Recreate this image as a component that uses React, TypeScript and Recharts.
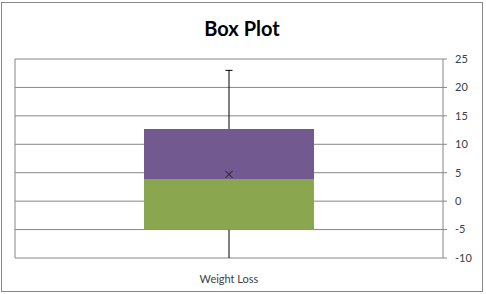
import React from "react";
import {
  ComposedChart,
  Bar,
  XAxis,
  YAxis,
  CartesianGrid,
  ReferenceDot,
} from "recharts";

const categories = ["Weight Loss"];
const minValues = [-10];
const q1Values = [-5];
const medianValues = [3.9];
const q3Values = [12.7];
const maxValues = [23];
const meanValues = [4.7];
const yTicks = [-10, -5, 0, 5, 10, 15, 20, 25];

const data = categories.map((name, i) => ({
  name,
  base: minValues[i],
  lowWhisker: q1Values[i] - minValues[i],
  lower: medianValues[i] - q1Values[i],
  upper: q3Values[i] - medianValues[i],
  highWhisker: maxValues[i] - q3Values[i],
}));

const AXIS = "#868686";
const TEXT = "#404040";
const FONT = "Lato, sans-serif";

const LowWhiskerShape = (props: any) => {
  const { x, y, width, height } = props;
  const cx = x + width / 2;
  const y1 = Math.min(y, y + height);
  const y2 = Math.max(y, y + height);
  return <line x1={cx} x2={cx} y1={y1} y2={y2} stroke="#000" strokeWidth={1} />;
};

const HighWhiskerShape = (props: any) => {
  const { x, y, width, height } = props;
  const cx = x + width / 2;
  const y1 = Math.min(y, y + height);
  const y2 = Math.max(y, y + height);
  return (
    <g>
      <line x1={cx} x2={cx} y1={y1} y2={y2} stroke="#000" strokeWidth={1} />
      <line x1={cx - 3.5} x2={cx + 3.5} y1={y1} y2={y1} stroke="#000" strokeWidth={1} />
    </g>
  );
};

const MeanShape = (props: any) => {
  const { cx, cy } = props;
  const r = 3.5;
  return (
    <g>
      <line x1={cx - r} y1={cy - r} x2={cx + r} y2={cy + r} stroke="#1a1a1a" strokeWidth={1} />
      <line x1={cx - r} y1={cy + r} x2={cx + r} y2={cy - r} stroke="#1a1a1a" strokeWidth={1} />
    </g>
  );
};

export default function App() {
  return (
    <div style={{ position: "absolute", left: 0, top: 0, width: 486, height: 294, background: "#fff", fontFamily: FONT }}>
      <div
        style={{
          position: "absolute",
          left: 1,
          top: 2,
          width: 480,
          height: 288,
          border: "1px solid #888",
        }}
      />
      <div
        style={{
          position: "absolute",
          left: 0,
          top: 14,
          width: 484,
          textAlign: "center",
          fontSize: 20,
          fontWeight: 700,
          color: "#000",
          fontFamily: FONT,
          lineHeight: "28px",
        }}
      >
        Box Plot
      </div>
      <div style={{ position: "absolute", left: 0, top: 0 }}>
        <ComposedChart
          width={486}
          height={294}
          data={data}
          margin={{ top: 59, right: 3, left: 10, bottom: 16 }}
        >
          <CartesianGrid vertical={false} stroke={AXIS} />
          <XAxis
            dataKey="name"
            axisLine={false}
            tickLine={false}
            height={20}
            tickMargin={11}
            tick={{ fill: TEXT, fontSize: 11, fontFamily: FONT }}
          />
          <YAxis
            yAxisId="left"
            orientation="left"
            width={5}
            domain={[-10, 25]}
            ticks={yTicks}
            tick={false}
            tickSize={4}
            stroke={AXIS}
          />
          <YAxis
            orientation="right"
            width={40}
            domain={[-10, 25]}
            ticks={yTicks}
            stroke={AXIS}
            tickSize={4}
            tickMargin={8}
            tick={{ fill: TEXT, fontSize: 11, fontFamily: FONT }}
          />
          <Bar stackId="box" dataKey="base" barSize={170} fill="none" isAnimationActive={false} />
          <Bar stackId="box" dataKey="lowWhisker" barSize={170} shape={LowWhiskerShape} isAnimationActive={false} />
          <Bar stackId="box" dataKey="lower" barSize={170} fill="#8AA64F" isAnimationActive={false} />
          <Bar stackId="box" dataKey="upper" barSize={170} fill="#72598F" isAnimationActive={false} />
          <Bar stackId="box" dataKey="highWhisker" barSize={170} shape={HighWhiskerShape} isAnimationActive={false} />
          <ReferenceDot x={categories[0]} y={meanValues[0]} shape={MeanShape} />
        </ComposedChart>
      </div>
    </div>
  );
}
